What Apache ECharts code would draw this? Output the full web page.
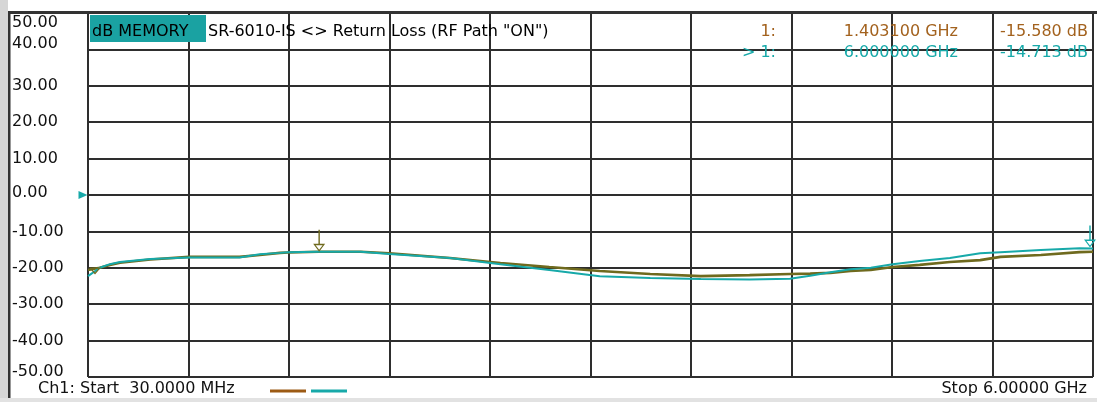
<!DOCTYPE html>
<html><head><meta charset="utf-8">
<script src="https://cdn.jsdelivr.net/npm/echarts@6/dist/echarts.min.js"></script>
<style>html,body{margin:0;padding:0;background:#fff}#c{width:1097px;height:402px}</style>
</head><body><div id="c"></div>
<script>
// Frequency points (GHz)
const freqGHz = [0.03, 0.10, 0.16, 0.22, 0.40, 0.63, 0.93, 1.05, 1.17, 1.22, 1.40, 1.65, 1.82, 2.18, 2.48, 2.77, 3.07, 3.37, 3.67, 3.96, 4.20, 4.32, 4.44, 4.56, 4.68, 4.81, 4.97, 5.15, 5.33, 5.45, 5.69, 5.92, 6.00];
// Live data trace (teal), dB
const dataTrace = [-22.3, -20.0, -19.0, -18.4, -17.6, -17.2, -17.2, -16.3, -15.9, -15.7, -15.6, -15.6, -16.2, -17.3, -19.0, -20.6, -22.3, -22.8, -23.1, -23.2, -23.0, -22.2, -21.2, -20.4, -20.0, -19.0, -18.1, -17.3, -16.0, -15.7, -15.1, -14.6, -14.713];
// Memory trace (olive), dB
const memoryTrace = [-20.6, -20.0, -19.2, -18.6, -17.7, -17.0, -17.0, -16.5, -15.9, -15.8, -15.58, -15.6, -16.0, -17.3, -18.7, -19.8, -20.9, -21.7, -22.3, -22.0, -21.7, -21.6, -21.4, -20.9, -20.6, -19.8, -19.2, -18.4, -17.9, -17.0, -16.5, -15.7, -15.6];
// Markers
const marker1 = { label: '1:', freq: 1.4031, val: -15.580, freqText: '1.403100 GHz', valText: '-15.580 dB' };
const marker2 = { label: '> 1:', freq: 6.0, val: -14.713, freqText: '6.000000 GHz', valText: '-14.713 dB' };
const refLevel = 0;
const yMin = -50, yMax = 50, yStep = 10;
const xStart = 0.03, xStop = 6.0;
const headerTag = 'dB MEMORY';
const headerTitle = 'SR-6010-IS <> Return Loss (RF Path "ON")';
const startText = 'Ch1: Start  30.0000 MHz';
const stopText = 'Stop 6.00000 GHz';

const FONT = 'DejaVu Sans';
const BROWN = '#A3621E';
const TEAL = '#17A9A9';
const OLIVE = '#6F6A1E';
const GRID = '#2E2E2E';

const chart = echarts.init(document.getElementById('c'), null, { renderer: 'canvas' });

const markerPath = 'path://M5.3,0 L6.7,0 L6.7,14 L5.3,14 Z M0,14 L12,14 L6,22 Z M2.5,15.5 L6,20 L9.5,15.5 Z';
const startTri = 'path://M0,0 L12,0 L6,7 Z M2.5,1.2 L6,5 L9.5,1.2 Z';
const refArrow = 'path://M0,0 L9,4 L0,8 Z';

function yLabel(v) {
  const s = v.toFixed(2);
  if (v === 50) return '{a|' + s + '}';
  if (v === 40) return '{b|' + s + '}';
  if (v === 0) return '{c|' + s + '}';
  if (v === -50) return '{d|' + s + '}';
  return s;
}

const option = {
  animation: false,
  backgroundColor: '#fff',
  grid: { left: 88, right: 4, top: 13, bottom: 25, containLabel: false },
  xAxis: [
    { type: 'value', min: xStart, max: xStop, show: false },
    { type: 'value', min: 0, max: 10, interval: 1, position: 'bottom',
      axisLine: { show: false }, axisTick: { show: false }, axisLabel: { show: false },
      splitLine: { show: true, lineStyle: { color: GRID, width: 2 } } }
  ],
  yAxis: {
    type: 'value', min: yMin, max: yMax, interval: yStep,
    axisLine: { show: false }, axisTick: { show: false },
    splitLine: { show: true, lineStyle: { color: GRID, width: 2 } },
    axisLabel: {
      align: 'left', margin: 76, color: '#111', fontFamily: FONT, fontSize: 16,
      formatter: yLabel,
      rich: {
        a: { fontFamily: FONT, fontSize: 16, color: '#111', padding: [20, 0, 0, 0] },
        b: { fontFamily: FONT, fontSize: 16, color: '#111', padding: [0, 0, 12, 0] },
        c: { fontFamily: FONT, fontSize: 16, color: '#111', padding: [0, 0, 5, 0] },
        d: { fontFamily: FONT, fontSize: 16, color: '#111', padding: [0, 0, 11, 0] }
      }
    }
  },
  series: [
    {
      name: 'Memory', type: 'line', xAxisIndex: 0, yAxisIndex: 0,
      data: freqGHz.map((f, i) => [f, memoryTrace[i]]),
      showSymbol: false, symbol: 'none',
      lineStyle: { color: OLIVE, width: 2.6 }, itemStyle: { color: OLIVE },
      z: 3,
      markPoint: {
        silent: true, label: { show: false },
        data: [
          { coord: [marker1.freq, marker1.val], symbol: markerPath, symbolSize: [12, 22], symbolOffset: [0, -11], itemStyle: { color: OLIVE } },
          { coord: [xStart, memoryTrace[0]], symbol: startTri, symbolSize: [12, 7], symbolOffset: [7, 1], itemStyle: { color: OLIVE } }
        ]
      }
    },
    {
      name: 'Data', type: 'line', xAxisIndex: 0, yAxisIndex: 0,
      data: freqGHz.map((f, i) => [f, dataTrace[i]]),
      showSymbol: false, symbol: 'none',
      lineStyle: { color: TEAL, width: 2 }, itemStyle: { color: TEAL },
      z: 4,
      markPoint: {
        silent: true, label: { show: false },
        data: [
          { coord: [marker2.freq, marker2.val], symbol: markerPath, symbolSize: [12, 22], symbolOffset: [-3, -12], itemStyle: { color: TEAL } },
          { coord: [xStart, refLevel], symbol: refArrow, symbolSize: [9, 8], symbolOffset: [-5, 0], itemStyle: { color: TEAL } }
        ]
      }
    }
  ],
  graphic: [
    // frame
    { type: 'rect', left: 0, top: 0, shape: { width: 8, height: 402 }, style: { fill: '#D6D6D6' }, z: 100 },
    { type: 'rect', left: 8, top: 11, shape: { width: 2.5, height: 391 }, style: { fill: '#333' }, z: 100 },
    { type: 'rect', left: 8, top: 11, shape: { width: 1089, height: 3 }, style: { fill: '#333' }, z: 100 },
    { type: 'rect', left: 0, top: 398, shape: { width: 1097, height: 4 }, style: { fill: '#E2E2E2' }, z: 100 },
    // header
    { type: 'rect', left: 90, top: 15, shape: { width: 116, height: 27 }, style: { fill: '#1AA2A2' }, z: 101 },
    { type: 'text', left: 92, top: 24, style: { text: headerTag, font: '16px "DejaVu Sans"', fill: '#000' }, z: 102 },
    { type: 'text', left: 208, top: 24, style: { text: headerTitle, font: '16px "DejaVu Sans"', fill: '#000' }, z: 50 },
    // marker readouts
    { type: 'text', right: 1097 - 776, top: 24, style: { text: marker1.label, font: '16px "DejaVu Sans"', fill: BROWN }, z: 50 },
    { type: 'text', right: 1097 - 958, top: 24, style: { text: marker1.freqText, font: '16px "DejaVu Sans"', fill: BROWN }, z: 50 },
    { type: 'text', right: 1097 - 1088, top: 24, style: { text: marker1.valText, font: '16px "DejaVu Sans"', fill: BROWN }, z: 50 },
    { type: 'text', right: 1097 - 776, top: 45, style: { text: marker2.label, font: '16px "DejaVu Sans"', fill: TEAL }, z: 50 },
    { type: 'text', right: 1097 - 958, top: 45, style: { text: marker2.freqText, font: '16px "DejaVu Sans"', fill: TEAL }, z: 50 },
    { type: 'text', right: 1097 - 1088, top: 45, style: { text: marker2.valText, font: '16px "DejaVu Sans"', fill: TEAL }, z: 50 },
    // footer
    { type: 'text', left: 38, top: 381, style: { text: startText, font: '16px "DejaVu Sans"', fill: '#111' }, z: 50 },
    { type: 'rect', left: 270, top: 389.5, shape: { width: 36, height: 3 }, style: { fill: '#9C5A14' }, z: 50 },
    { type: 'rect', left: 311, top: 389.5, shape: { width: 36, height: 3 }, style: { fill: TEAL }, z: 50 },
    { type: 'text', right: 1097 - 1087, top: 381, style: { text: stopText, font: '16px "DejaVu Sans"', fill: '#111' }, z: 50 }
  ]
};
chart.setOption(option);
</script>
</body></html>
